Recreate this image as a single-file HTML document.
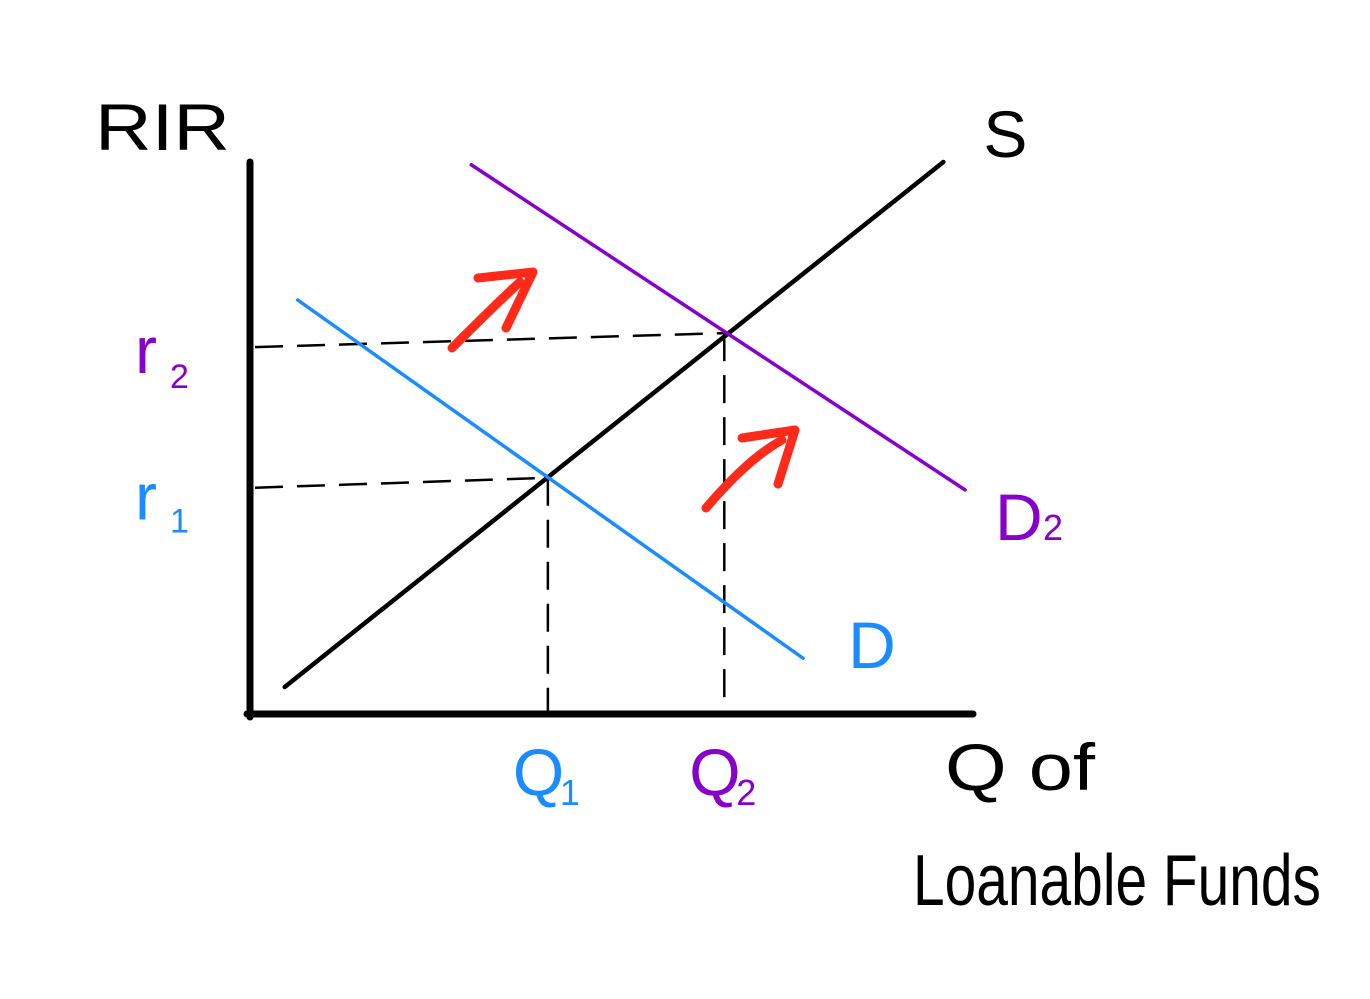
<!DOCTYPE html>
<html><head><meta charset="utf-8"><style>
html,body{margin:0;padding:0;background:#fff;width:1370px;height:999px;overflow:hidden}
svg{display:block}
text{font-family:"Liberation Sans",sans-serif}
</style></head><body>
<svg id="chart" width="1370" height="999" viewBox="0 0 1370 999" xmlns="http://www.w3.org/2000/svg">
<text x="95" y="150" font-size="66" fill="#000" textLength="135" lengthAdjust="spacingAndGlyphs">RIR</text>
<text x="945" y="790" font-size="66" fill="#000" textLength="150" lengthAdjust="spacingAndGlyphs">Q of</text>
<text x="913" y="905" font-size="72" fill="#000" textLength="408" lengthAdjust="spacingAndGlyphs">Loanable Funds</text>
<g id="marks"></g>
</svg>
<script>
const curveNames = ['S','D','D2'];
const curveStart = [[4.8,4.9],[6.6,75],[30.6,99.5]];
const curveEnd = [[95.9,100],[76.5,10.1],[98.9,40.6]];
const equilibria = [[41.2,42.8],[65.6,69]];
const rateLabels = ['r1','r2'];
const qtyLabels = ['Q1','Q2'];
const colors = {S:'#000',D:'#1a8cff',D2:'#8800cc'};
const eqColors = ['#1a8cff','#8800cc'];
const xs = v => 250 + v*7.23;
const ys = v => 714 - v*5.52;
const NS='http://www.w3.org/2000/svg';
const g=document.getElementById('marks');
function mk(tag,attrs){const e=document.createElementNS(NS,tag);for(const k in attrs)e.setAttribute(k,attrs[k]);g.appendChild(e);return e;}
// axes
let e=mk('line',{x1:250,y1:162,x2:250,y2:717,stroke:'#000','stroke-width':7,'stroke-linecap':'round'});


e=mk('line',{x1:247,y1:714,x2:973,y2:714,stroke:'#000','stroke-width':7,'stroke-linecap':'round'});


// dashed guides
equilibria.forEach((p,i)=>{
  e=mk('line',{x1:xs(0)+5,y1:ys(p[1])+(i?14:10),x2:xs(p[0]),y2:ys(p[1]),stroke:'#000','stroke-width':2.5,'stroke-dasharray':'28 14'});
  
  
  e=mk('line',{x1:xs(p[0]),y1:ys(p[1]),x2:xs(p[0]),y2:ys(0)-(i?14:0),stroke:'#000','stroke-width':2.5,'stroke-dasharray':'28 14'});
  
  
});
// curves
curveNames.forEach((n,i)=>{
  e=mk('line',{x1:xs(curveStart[i][0]),y1:ys(curveStart[i][1]),x2:xs(curveEnd[i][0]),y2:ys(curveEnd[i][1]),stroke:colors[n],'stroke-width':n==='S'?4.5:3.5,'stroke-linecap':'round'});
  
  
  const dx = n==='S'?40:(n==='D'?45:30);
  const dy = n==='S'?-15:(n==='D'?0:40);
  e=mk('text',{x:xs(curveEnd[i][0])+dx,y:ys(curveEnd[i][1])+dy+10,'font-size':66,fill:colors[n]});
  e.textContent = n==='D2'?'D':n;
  
  
  if(n==='D2'){const s=mk('text',{x:xs(curveEnd[i][0])+78,y:ys(curveEnd[i][1])+dy+10,'font-size':36,fill:colors[n]});s.textContent='2';
    
    }
});
// axis labels
equilibria.forEach((p,i)=>{
  e=mk('text',{x:135,y:ys(p[1])+(i?40:42),'font-size':66,fill:eqColors[i]});
  e.textContent='r';
  
  
  let s=mk('text',{x:170,y:ys(p[1])+(i?55:55),'font-size':34,fill:eqColors[i]});s.textContent=i?'2':'1';
  
  
  e=mk('text',{x:xs(p[0])-35,y:795,'font-size':66,fill:eqColors[i]});
  e.textContent='Q';
  
  
  s=mk('text',{x:xs(p[0])+12,y:805,'font-size':36,fill:eqColors[i]});s.textContent=i?'2':'1';
  
  
});
// red shift arrows
[['M452,348 C480,320 500,300 520,282','M478,278 L533,272 L506,328'],['M706,508 C730,480 755,455 782,440','M742,438 L795,430 L778,484']].forEach((a,i)=>{
  e=mk('path',{d:a[0]+' '+a[1],fill:'none',stroke:'#ff2a1a','stroke-width':9,'stroke-linecap':'round','stroke-linejoin':'round'});
  
  
});
</script>
</body></html>
